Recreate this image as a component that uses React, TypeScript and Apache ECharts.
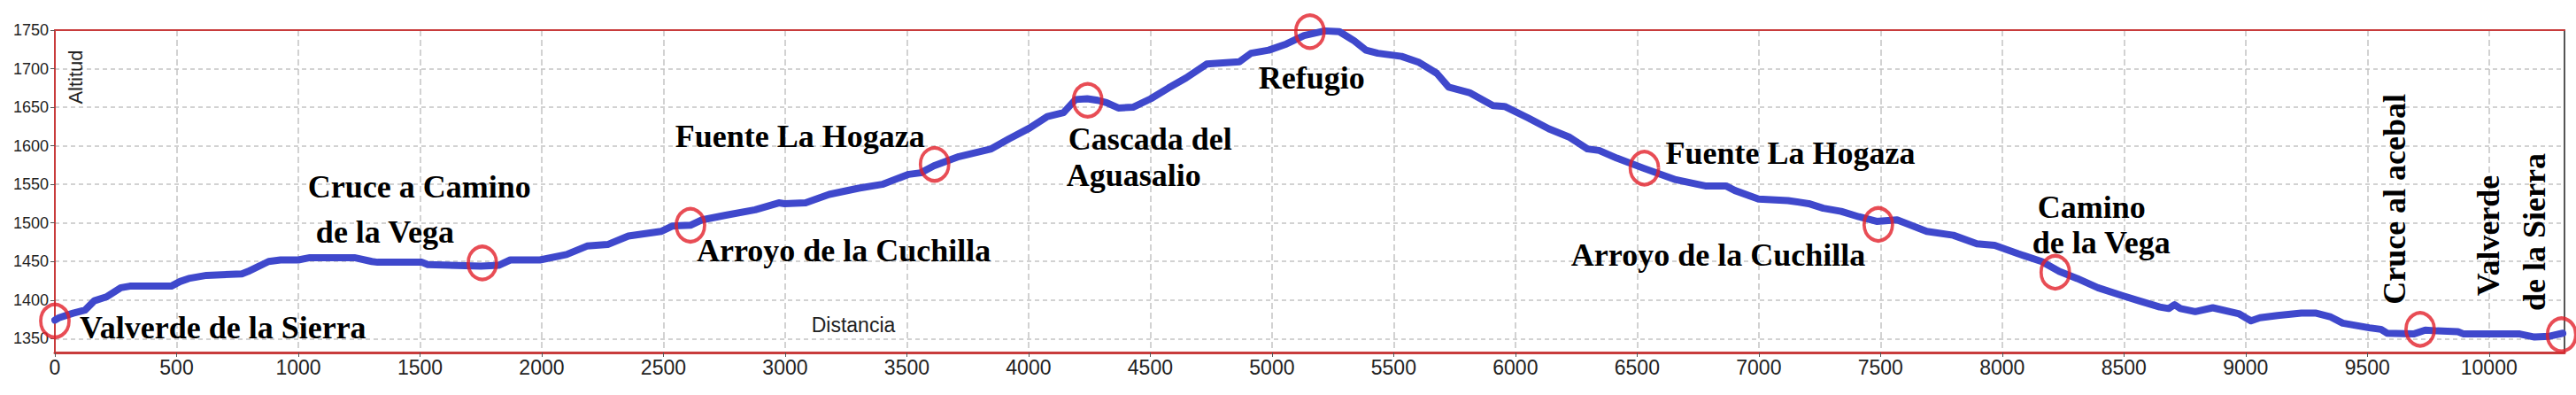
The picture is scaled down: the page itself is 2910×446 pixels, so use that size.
import React, { useEffect, useRef } from "react";
import * as echarts from "echarts";

// ---- Data ----
const distance = [
  0, 17, 75, 124, 162, 211, 271, 308, 478, 514, 550, 623, 768, 793, 878, 927, 1000, 1048, 1230,
  1302, 1326, 1508, 1532, 1750, 1823, 1871, 1993, 2102, 2186, 2271, 2356, 2490, 2538, 2611, 2659,
  2756, 2877, 2974, 2998, 3084, 3181, 3302, 3399, 3508, 3557, 3611, 3714, 3847, 3920, 4004, 4077,
  4144, 4193, 4241, 4284, 4320, 4369, 4429, 4502, 4575, 4647, 4732, 4866, 4914, 4987, 5059, 5132,
  5217, 5277, 5338, 5386, 5435, 5532, 5605, 5677, 5726, 5811, 5908, 5956, 6053, 6138, 6223, 6296,
  6344, 6417, 6526, 6659, 6780, 6865, 6902, 6999, 7120, 7205, 7265, 7338, 7411, 7484, 7568, 7690,
  7799, 7896, 7969, 8066, 8162, 8235, 8308, 8393, 8490, 8562, 8647, 8684, 8708, 8732, 8793, 8865,
  8974, 9022, 9059, 9131, 9229, 9290, 9350, 9399, 9508, 9556, 9581, 9690, 9738, 9787, 9872, 9896,
  10126, 10187, 10248, 10303,
];
const altitude = [
  1374, 1377, 1383, 1387, 1399, 1404, 1416, 1418, 1418, 1424, 1428, 1432, 1434, 1437, 1450, 1452,
  1452, 1455, 1455, 1450, 1449, 1449, 1446, 1444, 1445, 1452, 1452, 1459, 1470, 1472, 1483, 1489,
  1496, 1497, 1504, 1510, 1517, 1526, 1525, 1526, 1537, 1545, 1550, 1563, 1565, 1574, 1586, 1596,
  1609, 1623, 1638, 1643, 1660, 1661, 1659, 1656, 1649, 1650, 1661, 1675, 1688, 1706, 1709, 1720,
  1724, 1732, 1743, 1749, 1748, 1736, 1724, 1720, 1716, 1708, 1694, 1676, 1669, 1652, 1651, 1636,
  1622, 1611, 1596, 1594, 1584, 1571, 1556, 1548, 1548, 1542, 1531, 1529, 1525, 1519, 1515, 1508,
  1502, 1504, 1489, 1484, 1473, 1471, 1460, 1450, 1437, 1428, 1416, 1406, 1399, 1391, 1389, 1394,
  1389, 1385, 1390, 1382, 1373, 1377, 1380, 1383, 1383, 1378, 1370, 1364, 1362, 1357, 1356, 1361,
  1360, 1359, 1356, 1356, 1352, 1353, 1357,
];

const waypointDistance = [0, 1756, 2611, 3614, 4243, 5156, 6530, 7491, 8218, 9717, 10298];
const waypointAltitude = [1373, 1448, 1497, 1576, 1659, 1748, 1571, 1498, 1436, 1362, 1355];
const waypointLabels = [
  ["Valverde de la Sierra"],
  ["Cruce a Camino", "de la Vega"],
  ["Arroyo de la Cuchilla"],
  ["Fuente La Hogaza"],
  ["Cascada del", "Aguasalio"],
  ["Refugio"],
  ["Fuente La Hogaza"],
  ["Arroyo de la Cuchilla"],
  ["Camino", "de la Vega"],
  ["Cruce al acebal"],
  ["Valverde", "de la Sierra"],
];

const xAxisTitle = "Distancia";
const yAxisTitle = "Altitud";

// ---- Layout / styles ----
// pixel offsets of each label line relative to its waypoint marker
type LineLayout = { dx: number; dy: number; rotated?: boolean };
const labelLayout: LineLayout[][] = [
  [{ dx: 28, dy: 8 }],
  [{ dx: -197, dy: -86 }, { dx: -188, dy: -35 }],
  [{ dx: 7, dy: 29 }],
  [{ dx: -293, dy: -32 }],
  [{ dx: -22, dy: 44 }, { dx: -24, dy: 85 }],
  [{ dx: -58, dy: 52 }],
  [{ dx: 24, dy: -17 }],
  [{ dx: -347, dy: 35 }],
  [{ dx: -20, dy: -73 }, { dx: -26, dy: -33 }],
  [{ dx: -29, dy: -147, rotated: true }],
  [{ dx: -83, dy: -112, rotated: true }, { dx: -31, dy: -116, rotated: true }],
];

const NARROW = "'Liberation Sans Narrow', 'Arial Narrow', 'Liberation Sans', Arial, sans-serif";
const SANS = "'Liberation Sans', Arial, sans-serif";
const SERIF = "'Liberation Serif', 'Times New Roman', serif";
const AXIS_RED = "#c83c3c";
const GRID_GREY = "#c3c3c3";
const LINE_BLUE = "#3f48cc";
const CIRCLE_RED = "#e2202a";

export default function App() {
  const ref = useRef<HTMLDivElement>(null);

  useEffect(() => {
    if (!ref.current) return;
    const chart = echarts.init(ref.current, null, { renderer: "svg" });

    const option: any = {
      animation: false,
      backgroundColor: "#ffffff",
      grid: { left: 62, right: 13, top: 34, bottom: 48, containLabel: false },
      xAxis: [
        {
          type: "value",
          min: 0,
          max: 10310,
          interval: 500,
          axisLine: { show: true, onZero: false, lineStyle: { color: AXIS_RED, width: 3 } },
          axisTick: { show: true, length: 5, lineStyle: { color: "#555", width: 1 } },
          axisLabel: {
            margin: 5,
            color: "#222",
            fontFamily: NARROW,
            fontSize: 23,
            showMaxLabel: false,
            formatter: (v: number) => (v % 500 === 0 ? String(v) : ""),
          },
          splitLine: { show: true, lineStyle: { color: GRID_GREY, type: [7, 4], width: 1.5 } },
        },
        {
          type: "value",
          position: "top",
          min: 0,
          max: 10310,
          axisLine: { show: true, onZero: false, lineStyle: { color: AXIS_RED, width: 2 } },
          axisTick: { show: false },
          axisLabel: { show: false },
          splitLine: { show: false },
        },
      ],
      yAxis: [
        {
          type: "value",
          min: 1332,
          max: 1750,
          splitNumber: 8,
          axisLine: { show: true, onZero: false, lineStyle: { color: AXIS_RED, width: 2 } },
          axisTick: { show: true, length: 5, lineStyle: { color: "#555", width: 1 } },
          axisLabel: {
            margin: 7,
            color: "#222",
            fontFamily: SANS,
            fontSize: 18,
            showMinLabel: false,
            formatter: (v: number) => (v % 50 === 0 ? String(v) : ""),
          },
          splitLine: { show: true, lineStyle: { color: GRID_GREY, type: [5, 4], width: 1.5 } },
        },
        {
          type: "value",
          position: "right",
          min: 0,
          max: 1,
          axisLine: { show: true, onZero: false, lineStyle: { color: "#555", width: 2 } },
          axisTick: { show: false },
          axisLabel: { show: false },
          splitLine: { show: false },
        },
      ],
      series: [
        {
          type: "line",
          xAxisIndex: 0,
          yAxisIndex: 0,
          data: distance.map((d, i) => [d, altitude[i]]),
          showSymbol: false,
          clip: false,
          lineStyle: { color: LINE_BLUE, width: 8, cap: "round", join: "round" },
          z: 3,
        },
        {
          type: "scatter",
          xAxisIndex: 0,
          yAxisIndex: 0,
          data: waypointDistance.map((d, i) => [d, waypointAltitude[i]]),
          symbol: "circle",
          symbolSize: [32, 37],
          clip: false,
          itemStyle: { color: "rgba(0,0,0,0)", borderColor: CIRCLE_RED, borderWidth: 4 },
          z: 4,
        },
      ],
    };

    chart.setOption(option);

    const graphics: any[] = [];
    waypointLabels.forEach((lines, i) => {
      const p = chart.convertToPixel({ xAxisIndex: 0, yAxisIndex: 0 }, [
        waypointDistance[i],
        waypointAltitude[i],
      ]) as number[];
      lines.forEach((text, j) => {
        const lay = labelLayout[i][j];
        graphics.push({
          type: "text",
          x: p[0] + lay.dx,
          y: p[1] + lay.dy,
          rotation: lay.rotated ? Math.PI / 2 : 0,
          z: 10,
          style: {
            text,
            fill: "#000",
            fontFamily: SERIF,
            fontWeight: "bold",
            fontSize: 36,
            align: lay.rotated ? "center" : "left",
            textAlign: lay.rotated ? "center" : "left",
            verticalAlign: "middle",
            textVerticalAlign: "middle",
          },
        });
      });
    });
    graphics.push({
      type: "text",
      x: 964,
      y: 367,
      z: 10,
      style: {
        text: xAxisTitle,
        fill: "#222",
        fontFamily: NARROW,
        fontSize: 23,
        align: "center",
        textAlign: "center",
        verticalAlign: "middle",
        textVerticalAlign: "middle",
      },
    });
    graphics.push({
      type: "text",
      x: 85,
      y: 87,
      rotation: Math.PI / 2,
      z: 10,
      style: {
        text: yAxisTitle,
        fill: "#222",
        fontFamily: NARROW,
        fontSize: 22,
        align: "center",
        textAlign: "center",
        verticalAlign: "middle",
        textVerticalAlign: "middle",
      },
    });
    chart.setOption({ graphic: graphics });

    return () => chart.dispose();
  }, []);

  return (
    <div
      ref={ref}
      style={{ position: "fixed", left: 0, top: 0, width: 2910, height: 446, background: "#fff" }}
    />
  );
}
